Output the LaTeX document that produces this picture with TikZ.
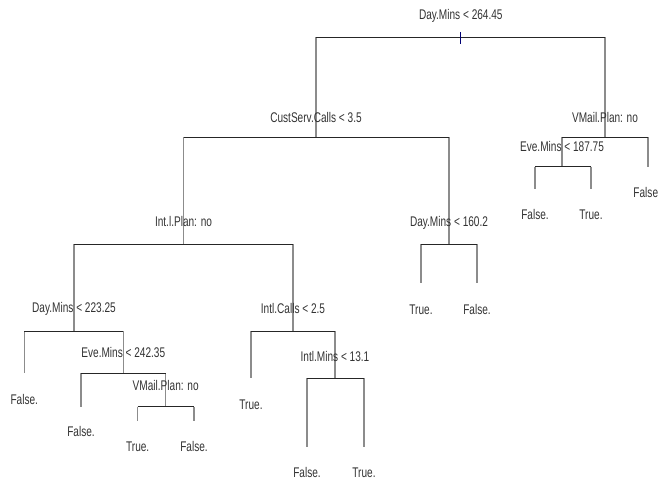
\documentclass[tikz,border=0pt]{standalone}
\usepackage{fontspec}
\setmainfont{Liberation Sans}[FakeStretch=0.72]

\begin{document}
\begin{tikzpicture}[x=1pt, y=-1pt,
	every node/.style={font=\fontsize{14}{16}\selectfont, text=black!80, inner sep=0pt, anchor=base},
	hline/.style={black!85, line width=1pt},
	vline/.style={black!45, line width=1.4pt}]
	\useasboundingbox (0,0) rectangle (659,479);
	% split points and leaf ends
	\coordinate (rt) at (460.5,37.3);
	\coordinate (cs) at (316,137.3);
	\coordinate (vm) at (605,137.3);
	\coordinate (em1) at (562,166.7);
	\coordinate (lf9) at (648,166.7);
	\coordinate (lf7) at (535,189);
	\coordinate (lf8) at (591,189);
	\coordinate (ip) at (183.5,244.3);
	\coordinate (dm2) at (449,244.3);
	\coordinate (lf5) at (421,283.3);
	\coordinate (lf6) at (477,283.3);
	\coordinate (dm3) at (74,331);
	\coordinate (ic) at (293,331);
	\coordinate (lf1) at (24.3,373.3);
	\coordinate (em2) at (123.3,373.3);
	\coordinate (lf2) at (81,406.7);
	\coordinate (vm2) at (165.7,406.7);
	\coordinate (lf3a) at (137.7,420.7);
	\coordinate (lf3b) at (194,420.7);
	\coordinate (lf4) at (251,378.3);
	\coordinate (im) at (335,378.3);
	\coordinate (lf4a) at (307,446.7);
	\coordinate (lf4b) at (364,446.7);

	% vertical branches
	\foreach \p/\a/\b in {rt/cs/vm, cs/ip/dm2, vm/em1/lf9, em1/lf7/lf8, ip/dm3/ic, dm2/lf5/lf6,
		dm3/lf1/em2, em2/lf2/vm2, vm2/lf3a/lf3b, ic/lf4/im, im/lf4a/lf4b} {
		\draw[vline] (\a |- \p) -- (\a);
		\draw[vline] (\b |- \p) -- (\b);
	}
	% horizontal splits
	\foreach \p/\a/\b in {rt/cs/vm, cs/ip/dm2, vm/em1/lf9, em1/lf7/lf8, ip/dm3/ic, dm2/lf5/lf6,
		dm3/lf1/em2, em2/lf2/vm2, vm2/lf3a/lf3b, ic/lf4/im, im/lf4a/lf4b}
		\draw[hline] (\a |- \p) -- (\b |- \p);
	\draw[blue!45!black, line width=1pt] (460.5,32) -- (460.5,44);

	% split labels
	\node (rtlab) at (460.8,19.3) {Day.Mins < 264.45};
	\node (cslab) at (316,122.7) {CustServ.Calls < 3.5};
	\node (vmlab) at (605,122.7) {VMail.Plan: no};
	\node (em1lab) at (562,151) {Eve.Mins < 187.75};
	\node (iplab) at (183.5,226.3) {Int.l.Plan: no};
	\node (dm2lab) at (449,226.3) {Day.Mins < 160.2};
	\node (dm3lab) at (74,312.7) {Day.Mins < 223.25};
	\node (iclab) at (293,313) {Intl.Calls < 2.5};
	\node (em2lab) at (123.3,357.3) {Eve.Mins < 242.35};
	\node (vm2lab) at (165.7,390) {VMail.Plan: no};
	\node (imlab) at (335,361.7) {Intl.Mins < 13.1};

	% leaves
	\node (t9) at (645.8,197.3) {False};
	\node (t7) at (535,219.7) {False.};
	\node (t8) at (591,219.7) {True.};
	\node (t5) at (421,314) {True.};
	\node (t6) at (477,314) {False.};
	\node (t1) at (24.3,404) {False.};
	\node (t2) at (81,436.5) {False.};
	\node (t3a) at (137.7,451) {True.};
	\node (t3b) at (194,451) {False.};
	\node (t4) at (251,409) {True.};
	\node (t4a) at (307,477) {False.};
	\node (t4b) at (364,477) {True.};
\end{tikzpicture}
\end{document}
